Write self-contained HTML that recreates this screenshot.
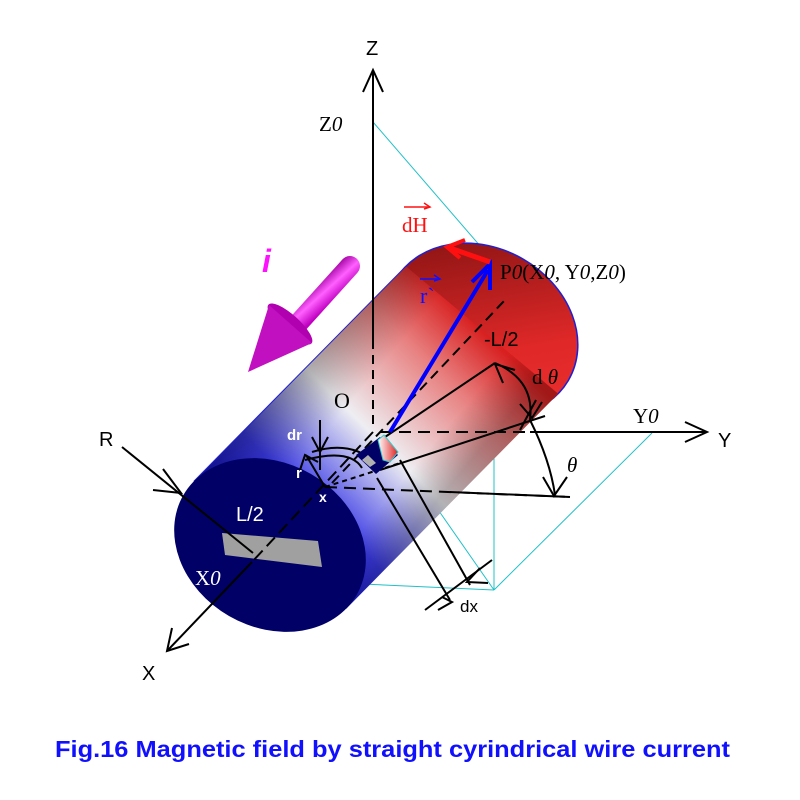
<!DOCTYPE html>
<html><head><meta charset="utf-8"><style>body{margin:0;background:#fff}svg{display:block}</style></head>
<body>
<svg width="800" height="800" viewBox="0 0 800 800" xmlns="http://www.w3.org/2000/svg">
<defs>
<linearGradient id="body" gradientUnits="userSpaceOnUse" x1="270" y1="545" x2="482" y2="330">
<stop offset="0" stop-color="#1515d8"/><stop offset="0.2" stop-color="#3a3ae6"/><stop offset="0.5" stop-color="#eeeef2"/><stop offset="0.8" stop-color="#e88080"/><stop offset="1" stop-color="#d82020"/>
</linearGradient>
<linearGradient id="shade" gradientUnits="userSpaceOnUse" x1="194" y1="481" x2="346" y2="609">
<stop offset="0" stop-color="#000" stop-opacity="0.35"/><stop offset="0.35" stop-color="#000" stop-opacity="0"/><stop offset="0.8" stop-color="#000" stop-opacity="0"/><stop offset="1" stop-color="#000" stop-opacity="0.25"/>
</linearGradient>
<linearGradient id="back" x1="0" y1="0" x2="1" y2="1">
<stop offset="0" stop-color="#7a1010"/><stop offset="0.6" stop-color="#e02828"/><stop offset="1" stop-color="#f03030"/>
</linearGradient>
<linearGradient id="elem" x1="0" y1="0" x2="1" y2="0">
<stop offset="0" stop-color="#fff"/><stop offset="1" stop-color="#e02020"/>
</linearGradient>
<linearGradient id="mag" gradientUnits="userSpaceOnUse" x1="312" y1="285" x2="330" y2="305">
<stop offset="0" stop-color="#a000a0"/><stop offset="0.5" stop-color="#ff60ff"/><stop offset="1" stop-color="#c000c0"/>
</linearGradient>
</defs>

<g stroke="#20c0c8" stroke-width="1" fill="none">
<line x1="373" y1="122" x2="494" y2="262"/>
<line x1="494" y1="262" x2="494" y2="590"/>
<line x1="652" y1="433" x2="494" y2="590"/>
<line x1="393" y1="445" x2="494" y2="590"/>
<line x1="230" y1="578" x2="494" y2="590"/>
</g>

<line x1="373" y1="72" x2="373" y2="300" stroke="#000" stroke-width="2"/>
<polyline points="363,92 373,70 383,92" fill="none" stroke="#000" stroke-width="2"/>

<ellipse cx="482" cy="330" rx="100" ry="82" transform="rotate(30 482 330)" fill="url(#back)" stroke="#2020d0" stroke-width="1.5"/>
<polygon points="193.8,481.3 405.8,266.3 558.2,393.7 346.2,608.7" fill="url(#body)"/>
<polygon points="193.8,481.3 405.8,266.3 558.2,393.7 346.2,608.7" fill="url(#shade)"/>
<line x1="193.8" y1="481.3" x2="405.8" y2="266.3" stroke="#2020d0" stroke-width="1"/>
<line x1="373" y1="250" x2="373" y2="340" stroke="#000" stroke-width="2"/>
<line x1="373" y1="340" x2="373" y2="425" stroke="#000" stroke-width="2" stroke-dasharray="9,6"/>
<ellipse cx="270" cy="545" rx="100" ry="82" transform="rotate(30 270 545)" fill="#000066"/>
<polygon points="222,533 318,541 322,567 225,555" fill="#a0a0a0"/>

<line x1="380" y1="432" x2="530" y2="432" stroke="#000" stroke-width="2" stroke-dasharray="12,7"/>
<line x1="530" y1="432" x2="705" y2="432" stroke="#000" stroke-width="2"/>
<polyline points="685,422 707,432 685,442" fill="none" stroke="#000" stroke-width="2"/>
<line x1="373" y1="432" x2="252" y2="562" stroke="#000" stroke-width="2" stroke-dasharray="12,6"/>
<line x1="252" y1="562" x2="168" y2="650" stroke="#000" stroke-width="2"/>
<polyline points="172,628 167,651 189,644" fill="none" stroke="#000" stroke-width="2"/>
<line x1="122" y1="447" x2="253" y2="553" stroke="#000" stroke-width="2"/>
<polyline points="163,469 181,493 153,490" fill="none" stroke="#000" stroke-width="2"/>
<line x1="332" y1="483" x2="505" y2="300" stroke="#000" stroke-width="2" stroke-dasharray="10,6"/>
<line x1="325" y1="487" x2="570" y2="497" stroke="#000" stroke-width="2" stroke-dasharray="12,7"/>
<line x1="450" y1="492" x2="570" y2="497" stroke="#000" stroke-width="2"/>
<line x1="325" y1="487" x2="400" y2="463" stroke="#000" stroke-width="2" stroke-dasharray="5,4"/>

<g stroke="#000" stroke-width="2" fill="none">
<line x1="385" y1="437" x2="495" y2="363"/>
<line x1="380" y1="470" x2="545" y2="416"/>
<path d="M495,363 Q535,380 530,420"/>
<path d="M530,420 Q550,460 555,495"/>
<polyline points="503,383 495,364 515,370"/>
<polyline points="520,404 532,418 542,402"/>
<polyline points="543,477 554,496 567,477"/>
<line x1="520" y1="430" x2="536" y2="400"/>
<path d="M312,452 Q350,440 375,462"/>
<path d="M305,460 Q350,448 362,468"/>
<line x1="320" y1="420" x2="320" y2="470"/>
<polyline points="312,437 320,452 328,437"/>
<line x1="325" y1="487" x2="306" y2="455"/>
<polyline points="300,470 305,455 318,462"/>
<line x1="377" y1="478" x2="450" y2="600"/>
<line x1="400" y1="460" x2="470" y2="585"/>
<line x1="425" y1="610" x2="492" y2="560"/>
<polyline points="480,568 467,582 488,583"/>
<polyline points="442,597 452,602 438,610"/>
</g>

<polygon points="356,455 380,437 398,455 376,474" fill="#000066"/>
<polygon points="378,440 384,435 398,452 390,462 383,460" fill="url(#elem)" stroke="#30d0d0" stroke-width="1"/>
<polygon points="362,460 368,455 376,463 370,467" fill="#b0b0b0"/>

<line x1="390" y1="432" x2="488" y2="270" stroke="#0000ff" stroke-width="4"/>
<polyline points="472,282 490,264 490,290" fill="none" stroke="#0000ff" stroke-width="4"/>
<line x1="490" y1="262" x2="450" y2="248" stroke="#ff1010" stroke-width="5"/>
<polyline points="465,240 447,247 460,258" fill="none" stroke="#ff1010" stroke-width="4"/>

<line x1="350" y1="266" x2="294" y2="328" stroke="url(#mag)" stroke-width="20" stroke-linecap="round"/>
<ellipse cx="290" cy="324" rx="29" ry="9" transform="rotate(42 290 324)" fill="#b000b0"/>
<polygon points="248,372 269,305 312,343" fill="#c010c0"/>

<g font-family="Liberation Sans, sans-serif" font-size="20" fill="#000">
<text x="366" y="55">Z</text>
<text x="718" y="447">Y</text>
<text x="99" y="446">R</text>
<text x="142" y="680">X</text>
<text x="484" y="346">-L/2</text>
<text x="460" y="612" font-size="17">dx</text>
<text x="236" y="521" fill="#fff">L/2</text>
<text x="287" y="440" fill="#fff" font-size="15" font-weight="bold">dr</text>
<text x="296" y="478" fill="#fff" font-size="15" font-weight="bold">r</text>
<text x="319" y="502" fill="#fff" font-size="14" font-weight="bold">x</text>
</g>
<g font-family="Liberation Serif, serif" font-size="21" fill="#000">
<text x="319" y="131">Z<tspan font-style="italic">0</tspan></text>
<text x="402" y="232" fill="#ff1010">dH</text>
<text x="500" y="279">P<tspan font-style="italic">0</tspan>(X<tspan font-style="italic">0</tspan>, Y<tspan font-style="italic">0</tspan>,Z<tspan font-style="italic">0</tspan>)</text>
<text x="420" y="303" fill="#1010ff" font-size="22">r`</text>
<text x="532" y="384">d <tspan font-style="italic">θ</tspan></text>
<text x="334" y="408" font-size="22">O</text>
<text x="633" y="423">Y<tspan font-style="italic">0</tspan></text>
<text x="567" y="472" font-style="italic">θ</text>
<text x="195" y="585" fill="#fff">X<tspan font-style="italic">0</tspan></text>
</g>
<line x1="404" y1="207" x2="430" y2="207" stroke="#ff1010" stroke-width="1.5"/>
<polyline points="424,203 430,207 424,209" fill="none" stroke="#ff1010" stroke-width="1.5"/>
<line x1="420" y1="279" x2="440" y2="279" stroke="#1010ff" stroke-width="1.5"/>
<polyline points="434,275 440,279 434,281" fill="none" stroke="#1010ff" stroke-width="1.5"/>
<text x="262" y="272" font-family="Liberation Sans, sans-serif" font-size="32" font-weight="bold" font-style="italic" fill="#ff10ff">i</text>

<text x="55" y="757" font-family="Liberation Sans, sans-serif" font-size="23" font-weight="bold" fill="#1010ff" textLength="675" lengthAdjust="spacingAndGlyphs">Fig.16 Magnetic field by straight cyrindrical wire current</text>
</svg>
</body></html>
